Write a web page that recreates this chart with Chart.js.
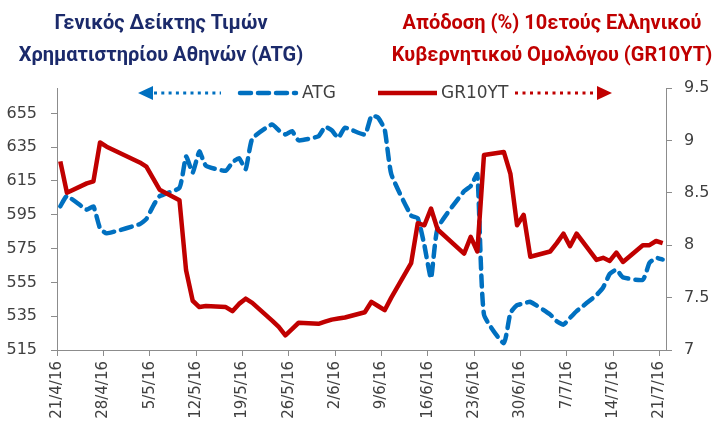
<!DOCTYPE html>
<html>
<head>
<meta charset="utf-8">
<script src="https://cdn.jsdelivr.net/npm/chart.js@4.4.1/dist/chart.umd.min.js"></script>
<style>
  body { margin: 0; background: #fff; }
  #wrap { position: relative; width: 720px; height: 427px; }
  .title { position: absolute; top: 6px; font-family: Roboto, "Noto Sans", sans-serif; font-weight: bold; font-size: 20px; line-height: 32px; text-align: center; white-space: nowrap; }
  #tLeft { left: 1px; width: 320px; color: #1B2A6B; }
  #tRight { left: 387px; width: 330px; color: #C00000; }
</style>
</head>
<body>
<div id="wrap">
  <canvas id="chart" width="720" height="427"></canvas>
  <div class="title" id="tLeft">Γενικός Δείκτης Τιμών<br>Χρηματιστηρίου Αθηνών (ATG)</div>
  <div class="title" id="tRight">Απόδοση (%) 10ετούς Ελληνικού<br>Κυβερνητικού Ομολόγου (GR10YT)</div>
</div>
<script>
const dates = ["21/4","22/4","25/4","26/4","27/4","28/4","3/5","4/5","5/5","6/5",
  "9/5","10/5","11/5","12/5","13/5","16/5","17/5","18/5","19/5","20/5",
  "23/5","24/5","25/5","26/5","27/5","30/5","31/5","1/6","2/6","3/6",
  "6/6","7/6","8/6","9/6","10/6","13/6","14/6","15/6","16/6","17/6",
  "21/6","22/6","23/6","24/6","27/6","28/6","29/6","30/6","1/7",
  "4/7","5/7","6/7","7/7","8/7","11/7","12/7","13/7","14/7","15/7",
  "18/7","19/7","20/7","21/7"];

const atg = [600,606,598,600,587,584,589.5,592.5,600,606,
  611,629.5,620,632.5,624,621,626,628.5,622,640,
  648.5,645,642.5,644.5,639,641.5,647,645,640.5,646.5,
  642.5,653.5,652.5,645.5,619,594.5,593,577,557.5,587,
  609,612,619,536,519,537,541.5,542.5,543.5,
  536,532,530,534,538,547.5,552,560,562.5,558,
  556.5,566.5,569.5,568.5];

const gr10yt = [8.80,8.50,8.59,8.61,8.98,8.94,8.79,8.75,8.64,8.53,
  8.43,7.76,7.47,7.41,7.42,7.41,7.37,7.44,7.49,7.45,
  7.28,7.22,7.14,7.20,7.26,7.25,7.27,7.29,7.30,7.31,
  7.36,7.46,7.42,7.38,7.50,7.83,8.21,8.19,8.35,8.15,
  7.92,8.08,7.94,8.86,8.89,8.68,8.19,8.29,7.89,
  7.94,8.02,8.11,7.99,8.11,7.86,7.88,7.85,7.93,7.84,
  8.00,8.00,8.04,8.02];

const xTickLabels = ["21/4/16","28/4/16","5/5/16","12/5/16","19/5/16","26/5/16","2/6/16",
  "9/6/16","16/6/16","23/6/16","30/6/16","7/7/16","14/7/16","21/7/16"];
const atgTicks = [515,535,555,575,595,615,635,655];
const yieldTicks = [7,7.5,8,8.5,9,9.5];

const blue = "#0070C0";
const red = "#C00000";

// days since 21/4/2016
function dayNo(s) {
  const p = s.split("/");
  const d = new Date(2016, +p[1] - 1, +p[0]);
  return Math.round((d - new Date(2016, 3, 21)) / 86400000);
}
// excel date axis puts each day in the middle of its slot
const xs = dates.map(d => dayNo(d) + 0.5);
const xTickPos = xTickLabels.map(dayNo);

const legendPlugin = {
  id: "arrowLegend",
  afterDraw(chart) {
    const ctx = chart.ctx;
    const y = 93;
    ctx.save();
    // left arrow
    ctx.fillStyle = blue;
    ctx.beginPath();
    ctx.moveTo(138, y); ctx.lineTo(153, y - 7); ctx.lineTo(153, y + 7); ctx.closePath();
    ctx.fill();
    ctx.strokeStyle = blue;
    ctx.lineWidth = 3;
    ctx.setLineDash([3, 4.3]);
    ctx.beginPath(); ctx.moveTo(154, y); ctx.lineTo(221, y); ctx.stroke();
    // ATG sample
    ctx.lineWidth = 4.5;
    ctx.lineCap = "round";
    ctx.setLineDash([11, 7]);
    ctx.beginPath(); ctx.moveTo(240, y); ctx.lineTo(296, y); ctx.stroke();
    // GR10YT sample
    ctx.setLineDash([]);
    ctx.strokeStyle = red;
    ctx.lineCap = "butt";
    ctx.beginPath(); ctx.moveTo(378, y); ctx.lineTo(437, y); ctx.stroke();
    // right arrow
    ctx.lineWidth = 3;
    ctx.setLineDash([3, 4.5]);
    ctx.beginPath(); ctx.moveTo(515, y); ctx.lineTo(597, y); ctx.stroke();
    ctx.fillStyle = red;
    ctx.beginPath();
    ctx.moveTo(612, y); ctx.lineTo(597, y - 7); ctx.lineTo(597, y + 7); ctx.closePath();
    ctx.fill();
    // labels
    ctx.fillStyle = "#404040";
    ctx.font = "17px 'DejaVu Sans'";
    ctx.textBaseline = "middle";
    ctx.fillText("ATG", 302, y + 1);
    ctx.fillText("GR10YT", 441, y + 1);
    ctx.restore();
  }
};

const axisGrid = { display: true, drawOnChartArea: false, drawTicks: true, tickLength: 6, color: "#8C8C8C" };
const axisBorder = { display: true, color: "#8C8C8C", width: 1 };
const tickFont = { family: "DejaVu Sans", size: 16 };

new Chart(document.getElementById("chart"), {
  type: "line",
  data: {
    datasets: [
      {
        label: "GR10YT",
        data: xs.map((x, i) => ({ x: x, y: gr10yt[i] })),
        yAxisID: "y1",
        borderColor: red,
        borderWidth: 4.5,
        borderJoinStyle: "round",
        pointRadius: 0,
        tension: 0,
        order: 0
      },
      {
        label: "ATG",
        data: xs.map((x, i) => ({ x: x, y: atg[i] })),
        yAxisID: "y",
        borderColor: blue,
        borderWidth: 4.5,
        borderDash: [11, 7],
        borderCapStyle: "round",
        borderJoinStyle: "round",
        pointRadius: 0,
        tension: 0.15,
        order: 1
      }
    ]
  },
  options: {
    responsive: false,
    animation: false,
    devicePixelRatio: 1,
    layout: { padding: { top: 88, left: 0, right: 0, bottom: 0 } },
    plugins: { legend: { display: false }, tooltip: { enabled: false } },
    scales: {
      x: {
        type: "linear",
        min: 0,
        max: 92,
        grid: axisGrid,
        border: axisBorder,
        afterBuildTicks: s => { s.ticks = xTickPos.map(v => ({ value: v })); },
        afterFit: s => { s.height = 77; },
        ticks: {
          autoSkip: false,
          minRotation: 90,
          maxRotation: 90,
          padding: 5,
          color: "#404040",
          font: { family: "DejaVu Sans", size: 15 },
          callback: (v, i) => xTickLabels[i]
        }
      },
      y: {
        position: "left",
        min: 515,
        max: 670,
        grid: axisGrid,
        border: axisBorder,
        afterBuildTicks: s => { s.ticks = atgTicks.map(v => ({ value: v })); },
        afterFit: s => { s.width = 57; },
        ticks: { color: "#404040", font: tickFont, padding: 14, callback: v => String(v) }
      },
      y1: {
        position: "right",
        min: 7,
        max: 9.5,
        grid: axisGrid,
        border: axisBorder,
        afterBuildTicks: s => { s.ticks = yieldTicks.map(v => ({ value: v })); },
        afterFit: s => { s.width = 54; },
        ticks: { color: "#404040", font: tickFont, padding: 12, callback: v => String(v) }
      }
    }
  },
  plugins: [legendPlugin]
});
</script>
</body>
</html>
